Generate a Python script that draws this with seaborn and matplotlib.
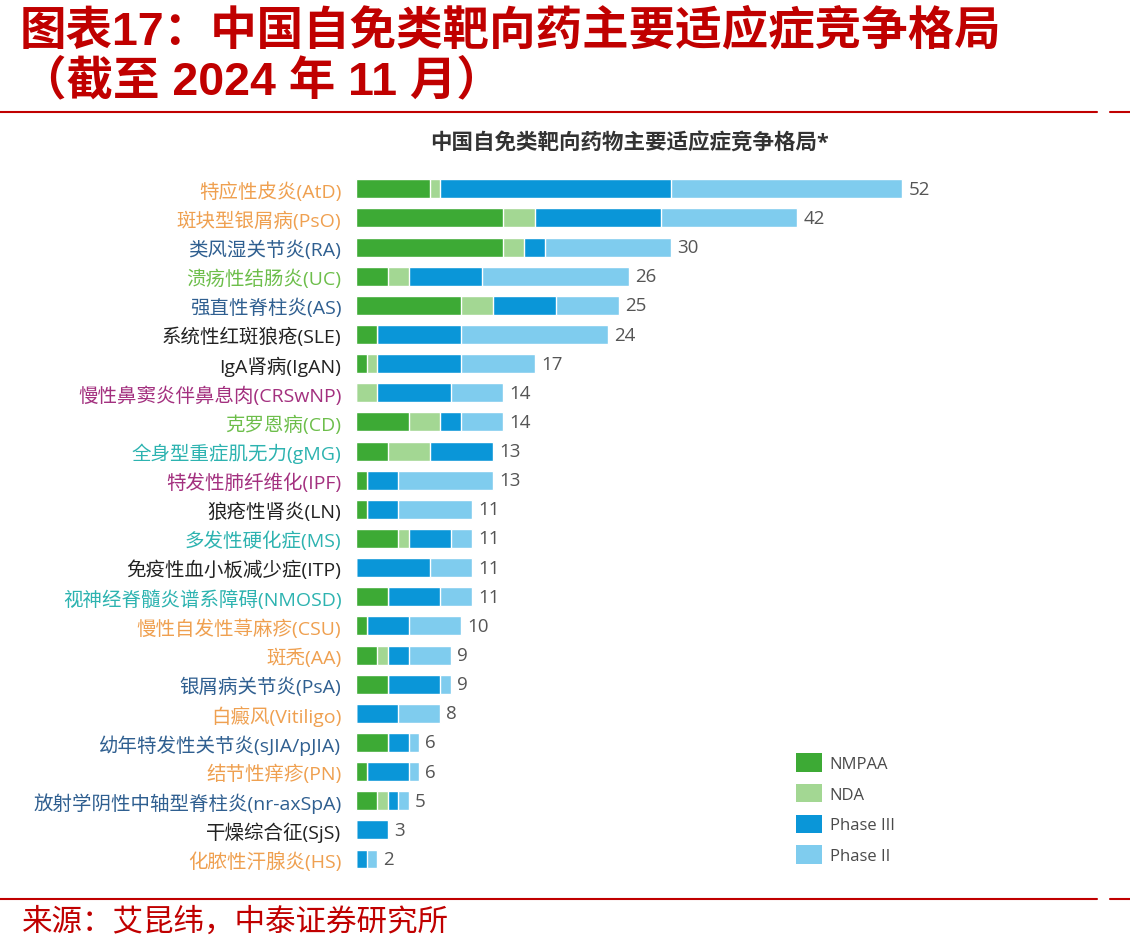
import numpy as np
import pandas as pd
import matplotlib
matplotlib.use('Agg')
import matplotlib.pyplot as plt
from matplotlib.patches import Patch
from matplotlib.lines import Line2D
import seaborn as sns

# Indications (top to bottom) and drug counts per stage
indications = ['特应性皮炎(AtD)', '斑块型银屑病(PsO)', '类风湿关节炎(RA)', '溃疡性结肠炎(UC)',
               '强直性脊柱炎(AS)', '系统性红斑狼疮(SLE)', 'IgA肾病(IgAN)', '慢性鼻窦炎伴鼻息肉(CRSwNP)',
               '克罗恩病(CD)', '全身型重症肌无力(gMG)', '特发性肺纤维化(IPF)', '狼疮性肾炎(LN)',
               '多发性硬化症(MS)', '免疫性血小板减少症(ITP)', '视神经脊髓炎谱系障碍(NMOSD)',
               '慢性自发性荨麻疹(CSU)', '斑秃(AA)', '银屑病关节炎(PsA)', '白癜风(Vitiligo)',
               '幼年特发性关节炎(sJIA/pJIA)', '结节性痒疹(PN)', '放射学阴性中轴型脊柱炎(nr-axSpA)',
               '干燥综合征(SjS)', '化脓性汗腺炎(HS)']
nmpaa    = [7, 14, 14, 3, 10, 2, 1, 0, 5, 3, 1, 1, 4, 0, 3, 1, 2, 3, 0, 3, 1, 2, 0, 0]
nda      = [1, 3, 2, 2, 3, 0, 1, 2, 3, 4, 0, 0, 1, 0, 0, 0, 1, 0, 0, 0, 0, 1, 0, 0]
phase3   = [22, 12, 2, 7, 6, 8, 8, 7, 2, 6, 3, 3, 4, 7, 5, 4, 2, 5, 4, 2, 4, 1, 3, 1]
phase2   = [22, 13, 12, 14, 6, 14, 7, 5, 4, 0, 9, 7, 2, 4, 3, 5, 4, 1, 4, 1, 1, 1, 0, 1]
label_groups = ['o', 'o', 'b', 'g', 'b', 'k', 'k', 'p', 'g', 't', 'p', 'k',
                't', 'k', 't', 'o', 'o', 'b', 'o', 'b', 'o', 'b', 'k', 'o']
stage_names = ['NMPAA', 'NDA', 'Phase III', 'Phase II']

stage_colors = ['#3DAA35', '#A3D793', '#0A96D8', '#7FCCEE']
group_colors = {'o': '#EFA050', 'b': '#2F5F90', 'g': '#6DBE4B', 'k': '#222222',
                'p': '#A3307F', 't': '#2DB3B0'}
red = '#C00000'

df = pd.DataFrame({'indication': indications, 'NMPAA': nmpaa, 'NDA': nda,
                   'Phase III': phase3, 'Phase II': phase2})
cum = df[stage_names].cumsum(axis=1)
df['total'] = cum['Phase II']

sns.set_theme(style='white')
plt.rcParams['font.family'] = ['Open Sans', 'Noto Sans CJK SC', 'DejaVu Sans']

fig = plt.figure(figsize=(11.3, 9.53), dpi=100)
fig.patch.set_facecolor('white')
ax = fig.add_axes([356 / 1130, 0.0823, 744 / 1130, 0.7338])

# stacked bars: draw cumulative sums from the longest layer down
for stage, color in zip(stage_names[::-1], stage_colors[::-1]):
    sns.barplot(x=cum[stage], y=df['indication'], order=indications, orient='h',
                color=color, width=0.65, saturation=1, ax=ax)

ax.set_xlim(0, 744 / 10.5)
ax.set_xlabel('')
ax.set_ylabel('')
ax.set_xticks([])
sns.despine(ax=ax, left=True, bottom=True)
ax.tick_params(axis='y', length=0, pad=10.5, labelsize=14)
for tick, g in zip(ax.get_yticklabels(), label_groups):
    tick.set_color(group_colors[g])

for i, total in enumerate(df['total']):
    ax.text(total + 0.6, i, str(total), va='center', ha='left', fontsize=13.5,
            color='#555555')

handles = [Patch(facecolor=c, edgecolor='none', label=n) for n, c in zip(stage_names, stage_colors)]
ax.legend(handles=handles, loc='upper left', bbox_to_anchor=(788 / 1130, 1 - 746 / 953),
          bbox_transform=fig.transFigure, frameon=False, fontsize=12, borderpad=0,
          handlelength=1.56, handleheight=1.3, labelspacing=0.72, handletextpad=0.45,
          labelcolor='#4A4A4A')

# chart subtitle
fig.text(630 / 1130, 1 - 144 / 953, '中国自免类靶向药物主要适应症竞争格局*', ha='center', va='center',
         fontsize=15.5, fontweight='bold', color='#333333')

# report header / footer
fig.text(20 / 1130, 1 - 32 / 953, '图表17：中国自免类靶向药主要适应症竞争格局', ha='left', va='center',
         fontsize=33.5, fontweight='bold', color=red,
         family=['Liberation Sans', 'Noto Sans CJK SC'])
fig.text(20 / 1130, 1 - 82 / 953, '（截至 2024 年 11 月）', ha='left', va='center',
         fontsize=33.5, fontweight='bold', color=red,
         family=['Liberation Sans', 'Noto Sans CJK SC'])
for yy in (113, 900):
    y = 1 - yy / 953
    fig.add_artist(Line2D([0, 1097 / 1130], [y, y], color=red, lw=1.5, transform=fig.transFigure))
    fig.add_artist(Line2D([1110 / 1130, 1], [y, y], color=red, lw=1.5, transform=fig.transFigure))
fig.text(22 / 1130, 1 - 922 / 953, '来源：艾昆纬，中泰证券研究所', ha='left', va='center',
         fontsize=22, color=red, family=['Noto Sans CJK SC'])

fig.savefig('out.png', dpi=100, facecolor='white')
